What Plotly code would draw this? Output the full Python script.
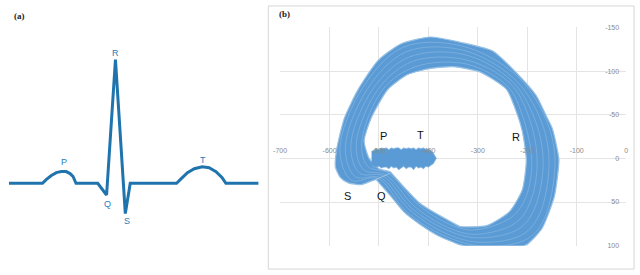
import plotly.graph_objects as go

# ---------------- Panel (a): schematic ECG beat ----------------
ecg_t = [2, 36, 40, 45, 50, 55, 60, 64, 67, 70, 92, 101, 110, 120, 125, 172, 177, 183, 190, 198, 205, 212, 218, 222, 255]
ecg_v = [0, 0, 4, 8, 11, 12, 12, 10, 7, 0, 0, -12, 127, -31, 0, 0, 5, 11, 15, 17, 16, 12, 6, 0, 0]
ecg_labels = ["P", "Q", "R", "S", "T"]
ecg_label_t = [58, 102, 110, 122, 199]
ecg_label_v = [22, -21, 134, -39, 24]

# ---------------- Panel (b): phase-space loop ----------------
outer_x = [-506, -478, -450, -416, -382, -336, -296, -250, -202, -170, -145, -136, -140, -150, -162, -182, -222, -270, -336, -396, -456, -502, -542, -570, -586, -588, -578, -562, -536, -516, -506]
outer_y = [24, 42, 61, 76, 88, 99, 103, 106, 99, 80, 43, 2, -12, -35, -49, -72, -98, -123, -133, -139, -131, -112, -79, -46, -9, 10, 22, 28, 30, 26, 24]
inner_x = [-476, -500, -520, -530, -516, -482, -442, -396, -350, -296, -242, -220, -210, -202, -210, -236, -282, -336, -350, -416, -476]
inner_y = [16, 12, 0, -20, -46, -79, -96, -103, -105, -99, -79, -50, -31, 2, 36, 61, 77, 78, 74, 52, 16]
beat1_x = [-502, -446, -378, -298, -206, -168, -144, -164, -224, -334, -452, -535, -579, -556, -502]
beat1_y = [23, 60, 86, 100, 94, 72, 2, -47, -96, -129, -127, -79, -10, 25, 23]
beat2_x = [-497, -440, -372, -300, -212, -176, -156, -175, -228, -331, -445, -524, -568, -548, -497]
beat2_y = [22, 58, 84, 96, 88, 65, 2, -47, -92, -124, -122, -79, -12, 21, 22]
beat3_x = [-492, -434, -367, -303, -218, -185, -168, -187, -232, -328, -439, -513, -557, -539, -492]
beat3_y = [20, 57, 81, 91, 81, 57, 2, -48, -89, -119, -116, -79, -14, 17, 20]
beat4_x = [-486, -428, -361, -305, -224, -194, -180, -198, -235, -325, -432, -502, -546, -531, -486]
beat4_y = [19, 55, 79, 87, 74, 50, 2, -49, -86, -113, -111, -79, -16, 13, 19]
beat5_x = [-481, -421, -355, -308, -231, -202, -191, -210, -239, -323, -426, -492, -535, -523, -481]
beat5_y = [17, 53, 76, 82, 67, 43, 2, -49, -82, -108, -105, -79, -18, 9, 17]
cluster_x = [-515, -510, -505, -500, -495, -490, -485, -480, -475, -470, -465, -460, -455, -450, -445,
             -440, -435, -430, -425, -420, -415, -410, -405, -400, -395, -390, -384,
             -390, -395, -400, -405, -410, -415, -420, -425, -430, -435, -440, -445, -450, -455,
             -460, -465, -470, -475, -480, -485, -490, -495, -500, -505, -510, -515]
cluster_y = [-8, -10, -11, -10, -12, -11, -12, -10, -12, -11, -12, -12, -10, -12, -11,
             -12, -11, -12, -10, -12, -11, -12, -10, -11, -9, -6, 0,
             6, 8, 10, 9, 12, 10, 11, 9, 13, 10, 10, 12, 9, 11,
             13, 10, 11, 9, 12, 10, 10, 11, 9, 10, 10, 8]
wave_labels = ["P", "T", "R", "S", "Q"]
wave_label_x = [-490, -416, -222, -564, -494]
wave_label_y = [-26, -27, -24, 43, 43]

x_ticks = [-700, -600, -500, -400, -300, -200, -100, 0]
y_ticks = [-150, -100, -50, 0, 50, 100]

BAND = "#5b9bd5"
STRAND = "rgba(185,214,240,0.45)"

fig = go.Figure()
fig.add_trace(go.Scatter(x=ecg_t, y=ecg_v, mode="lines", xaxis="x3", yaxis="y3",
                         line=dict(color="#1f74ad", width=3), hoverinfo="skip"))
ring_x = outer_x + inner_x
ring_y = outer_y + inner_y
fig.add_trace(go.Scatter(x=ring_x, y=ring_y, mode="lines", fill="toself", fillcolor=BAND,
                         line=dict(color="#96c0e4", width=1.2, shape="spline", smoothing=0.6),
                         xaxis="x2", yaxis="y2", hoverinfo="skip"))
for bx, by in [(beat1_x, beat1_y), (beat2_x, beat2_y), (beat3_x, beat3_y),
               (beat4_x, beat4_y), (beat5_x, beat5_y)]:
    fig.add_trace(go.Scatter(x=bx, y=by, mode="lines", xaxis="x2", yaxis="y2",
                             line=dict(color=STRAND, width=0.7, shape="spline"),
                             hoverinfo="skip"))
fig.add_trace(go.Scatter(x=cluster_x, y=cluster_y, mode="lines", fill="toself", fillcolor=BAND,
                         line=dict(color="#80b1df", width=0.8), xaxis="x2", yaxis="y2",
                         hoverinfo="skip"))

annotations = []
for lab, tx, ty in zip(ecg_labels, ecg_label_t, ecg_label_v):
    annotations.append(dict(x=tx, y=ty, xref="x3", yref="y3", text=lab, showarrow=False,
                            font=dict(family="Liberation Sans", size=9, color="#2a7db6"),
                            xanchor="center", yanchor="middle"))
for lab, tx, ty in zip(wave_labels, wave_label_x, wave_label_y):
    annotations.append(dict(x=tx, y=ty, xref="x2", yref="y2", text=lab, showarrow=False,
                            font=dict(family="Liberation Sans", size=11, color="#111111"),
                            xanchor="center", yanchor="middle"))
annotations.append(dict(x=12.5/640, y=1 - 12/275, xref="paper", yref="paper", text="<b>(a)</b>",
                        showarrow=False, font=dict(family="Liberation Serif", size=9, color="#222"),
                        xanchor="center", yanchor="middle"))
annotations.append(dict(x=281/640, y=1 - 10/275, xref="paper", yref="paper", text="<b>(b)</b>",
                        showarrow=False, font=dict(family="Liberation Serif", size=9, color="#222"),
                        xanchor="center", yanchor="middle"))

x0_dom = 277/640
x1_dom = 628/640
y0_dom = (275 - 248)/275
y1_dom = (275 - 24)/275
zero_pos = (275 - 158)/275

fig.update_layout(
    width=640, height=275, margin=dict(l=0, r=0, t=0, b=0),
    paper_bgcolor="white", plot_bgcolor="white", showlegend=False,
    xaxis3=dict(domain=[0, 260/640], range=[0, 260], visible=False, anchor="y3"),
    yaxis3=dict(domain=[0, 1], range=[-91, 184], visible=False, anchor="x3"),
    xaxis2=dict(domain=[x0_dom, x1_dom], range=[-700, 0], anchor="free", position=zero_pos,
                side="top", tickvals=x_ticks, ticktext=[str(v) for v in x_ticks],
                tickfont=dict(family="Liberation Sans", size=7, color="#8a8a8a"),
                showgrid=True, gridcolor="#e4e4e4", gridwidth=1, zeroline=False,
                showline=False, ticks="", ticklabeloverflow="allow", ticklabelstandoff=4),
    yaxis2=dict(domain=[y0_dom, y1_dom], range=[100, -150], anchor="x2", side="right",
                ticklabelposition="inside", tickvals=y_ticks, ticktext=[str(v) for v in y_ticks],
                tickfont=dict(family="Liberation Sans", size=7, color="#8a8a8a"),
                showgrid=True, gridcolor="#e4e4e4", gridwidth=1, zeroline=False,
                showline=False, ticks="", ticklabeloverflow="allow", ticklabelstandoff=4),
    annotations=annotations,
    shapes=[dict(type="rect", xref="paper", yref="paper", x0=265/640, x1=636/640,
                 y0=3/275, y1=273/275, line=dict(color="#d6d6d6", width=1))],
)

post = ("var d=document.getElementById('{plot_id}');"
        "d.style.position='fixed';d.style.left='0px';d.style.top='0px';"
        "document.documentElement.style.margin='0';document.documentElement.style.padding='0';"
        "document.body.style.margin='0';document.body.style.padding='0';"
        "document.documentElement.style.overflow='hidden';document.body.style.overflow='hidden';")
fig.write_html("out.html", config={"displayModeBar": False}, post_script=post)
